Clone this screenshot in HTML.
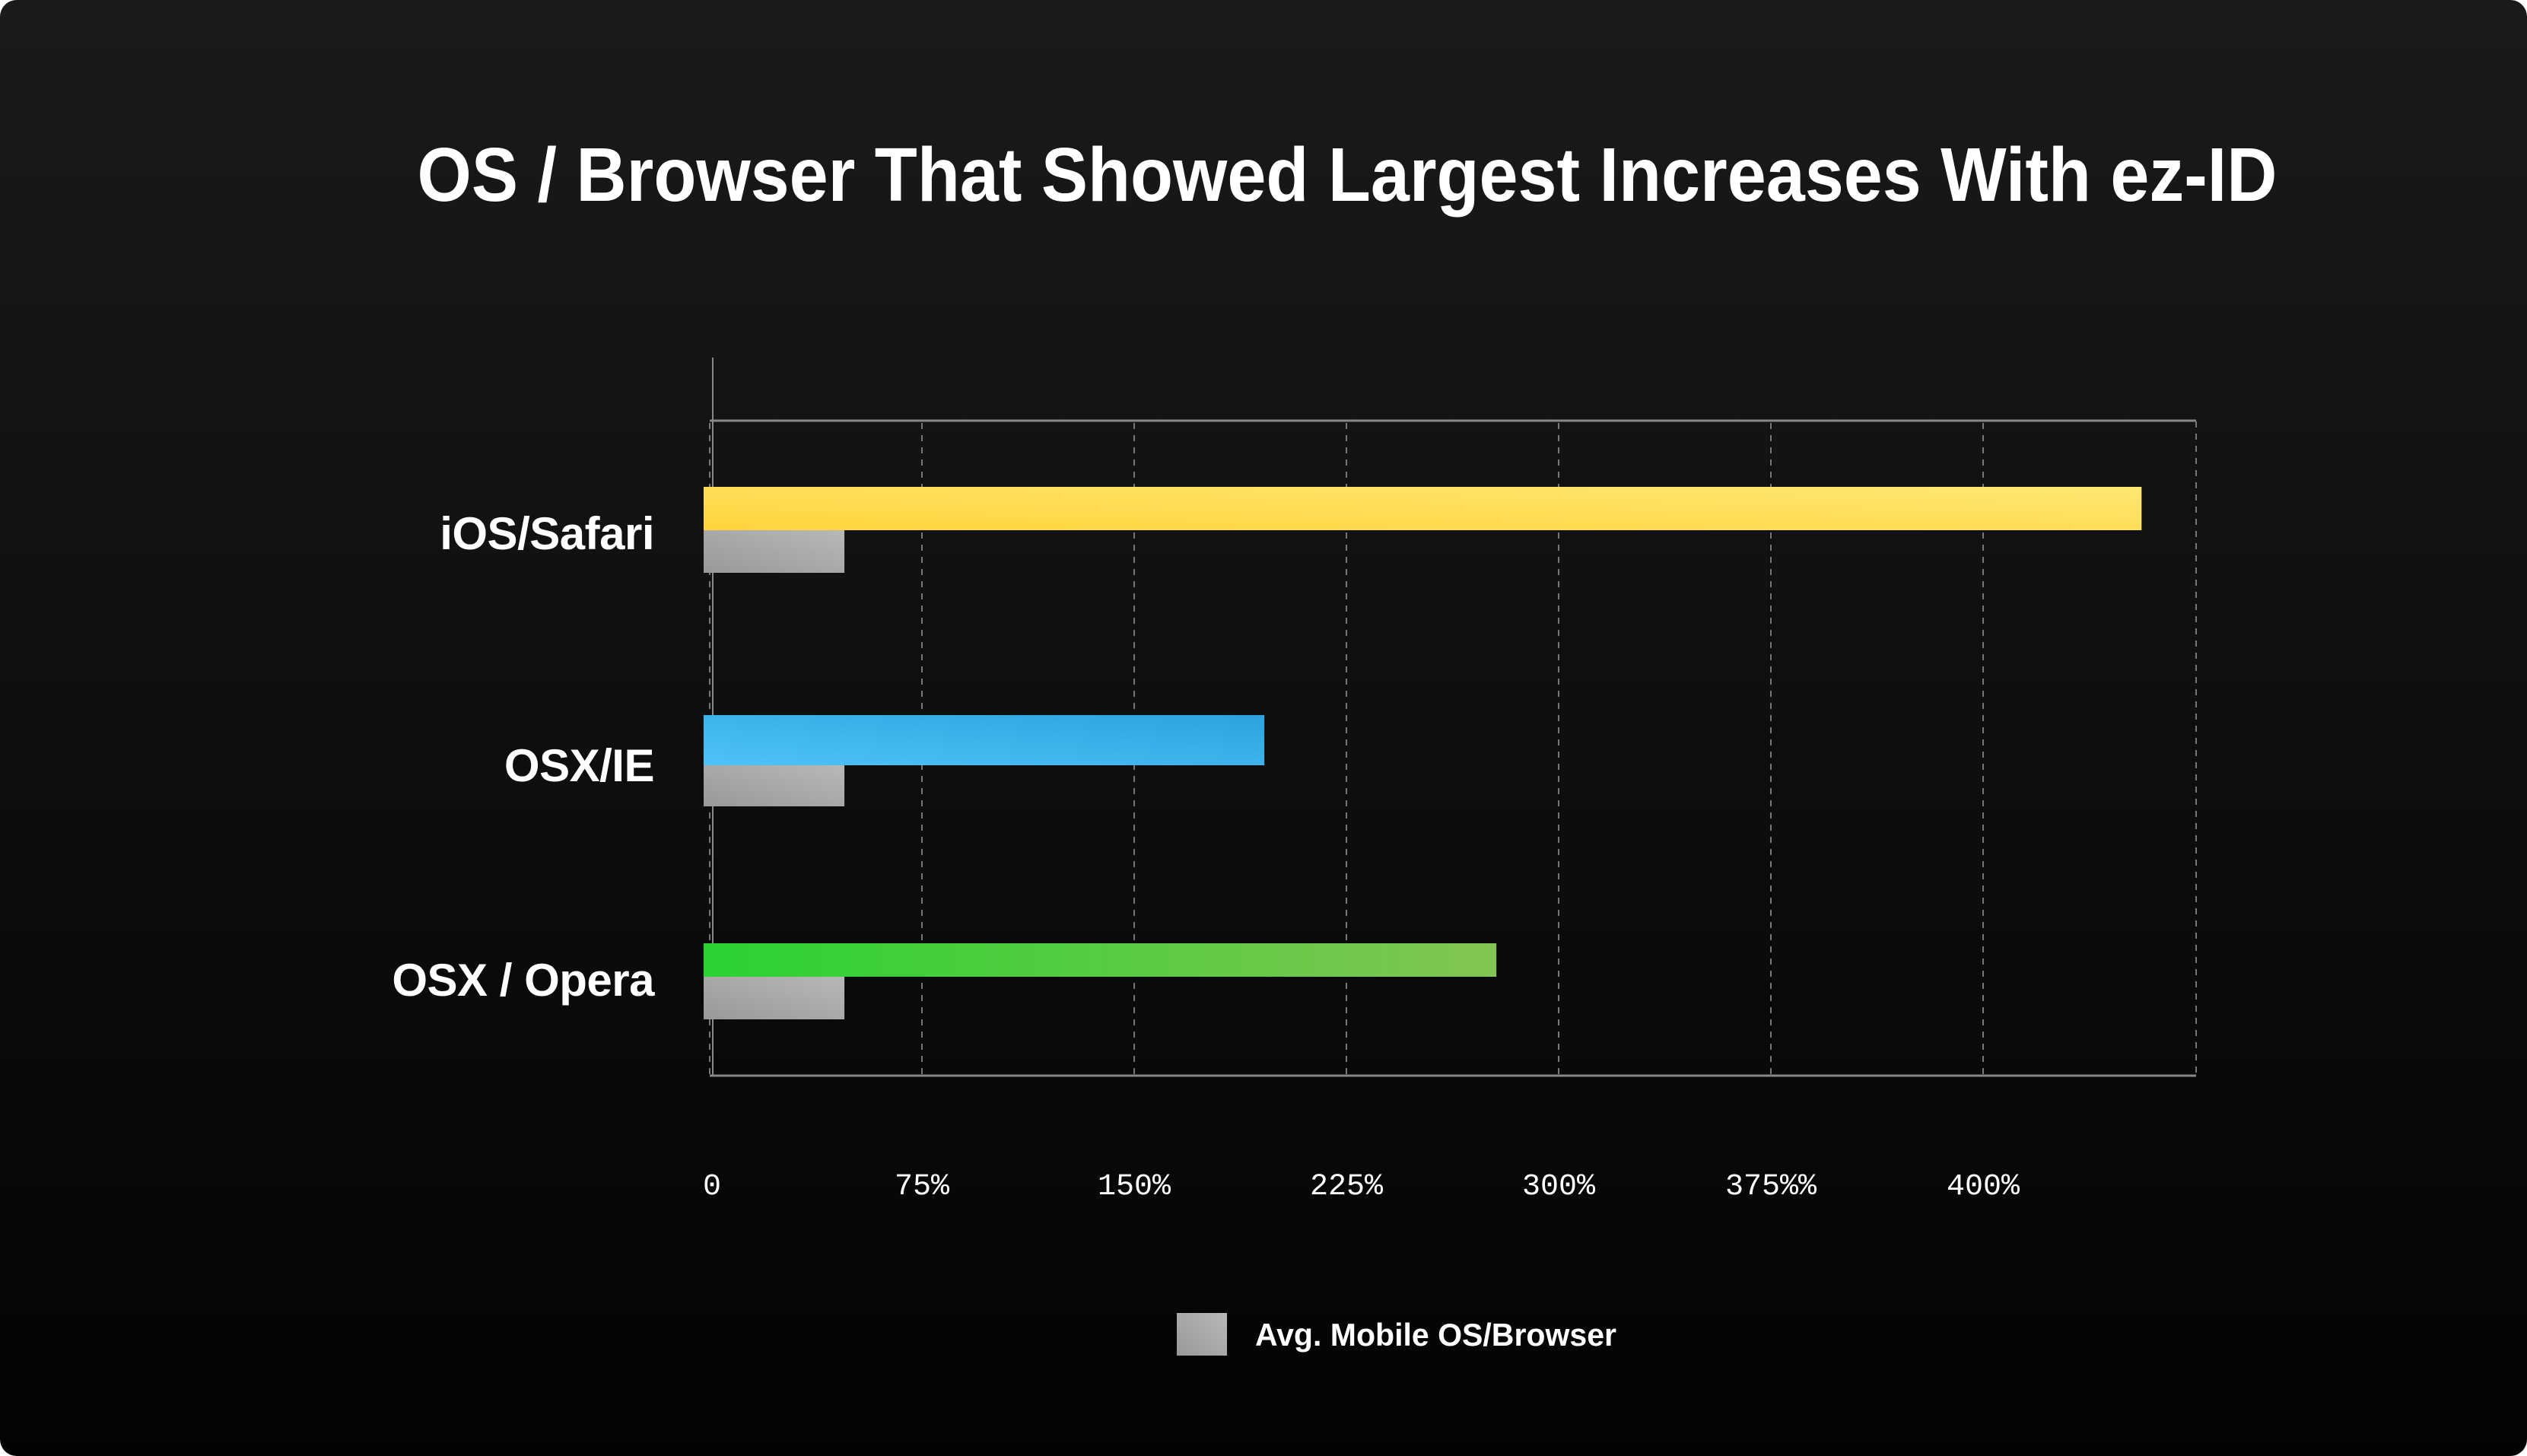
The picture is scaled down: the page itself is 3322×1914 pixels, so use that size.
<!DOCTYPE html>
<html><head><meta charset="utf-8"><style>
html,body{margin:0;padding:0;background:#fff;}
svg{display:block;}
text{font-family:"Liberation Sans",sans-serif;}
text.mono{font-family:"Liberation Mono",monospace;}
</style></head><body>
<svg id="chart" width="3322" height="1914" viewBox="0 0 3322 1914" xmlns="http://www.w3.org/2000/svg">
<defs>
<linearGradient id="bg" x1="0" y1="0" x2="0" y2="1"><stop offset="0" stop-color="#1b1a1b"/><stop offset="1" stop-color="#030303"/></linearGradient>
<linearGradient id="gY" x1="0" y1="1" x2="1" y2="0"><stop offset="0" stop-color="#ffd53d"/><stop offset="1" stop-color="#ffe773"/></linearGradient>
<linearGradient id="gB" x1="0" y1="1" x2="1" y2="0"><stop offset="0" stop-color="#4fc3f7"/><stop offset="1" stop-color="#2ca3de"/></linearGradient>
<linearGradient id="gG" x1="0" y1="0" x2="1" y2="0"><stop offset="0" stop-color="#2ad232"/><stop offset="1" stop-color="#82c552"/></linearGradient>
<linearGradient id="gA" x1="0" y1="1" x2="1" y2="0"><stop offset="0" stop-color="#999"/><stop offset="1" stop-color="#b8b8b8"/></linearGradient>
</defs>
<rect x="0" y="0" width="3322" height="1914" rx="22" fill="url(#bg)"/>
<text x="1771" y="264" text-anchor="middle" font-size="100" font-weight="bold" fill="#fff" textLength="2445" lengthAdjust="spacingAndGlyphs">OS / Browser That Showed Largest Increases With ez-ID</text>
<g id="grid"></g>
<g id="bars"></g>
<g id="labels"></g>
<rect x="1547" y="1726" width="66" height="56" fill="url(#gA)"/>
<text x="1650" y="1769" font-size="42" font-weight="bold" fill="#fff" textLength="475" lengthAdjust="spacingAndGlyphs">Avg. Mobile OS/Browser</text>
</svg>
<script>
const categories = ["iOS/Safari", "OSX/IE", "OSX / Opera"];
const mainValues = [506, 196, 278];
const avgValues = [47.6, 47.6, 47.6];
const tickLabels = ["0", "75%", "150%", "225%", "300%", "375%%", "400%"];
const tickValues = [0, 75, 150, 225, 300, 375, 450];

const NS = "http://www.w3.org/2000/svg";
const x0 = 933, pxPer = 279 / 75;
function xs(v) { return x0 + v * pxPer; }
const catTop = [640, 940, 1240];
const mainH = [57, 66, 44];
const avgH = [56, 54, 56];
const fills = ["url(#gY)", "url(#gB)", "url(#gG)"];
const labelY = [701, 1006, 1288];
function mk(tag, attrs, parent) {
  const e = document.createElementNS(NS, tag);
  for (const k in attrs) e.setAttribute(k, attrs[k]);
  parent.appendChild(e);
  return e;
}
const gridG = document.getElementById('grid');
const barsG = document.getElementById('bars');
const labelsG = document.getElementById('labels');
tickValues.forEach((v, i) => {
  const l = mk('line', {x1: xs(v), x2: xs(v), y1: 556, y2: 1414, stroke: '#777', 'stroke-width': 2, 'stroke-dasharray': '8 8'}, gridG);
  
  
  const t = mk('text', {x: xs(v) + (i === 0 ? 3 : 0), y: 1570, 'text-anchor': 'middle', 'font-size': 40, fill: '#fff', 'class': 'mono'}, labelsG);
  t.textContent = tickLabels[i];
  
  
});
const rightLine = mk('line', {x1: 2887, x2: 2887, y1: 554, y2: 1414, stroke: '#777', 'stroke-width': 2, 'stroke-dasharray': '8 8'}, gridG);


const topLine = mk('line', {x1: 933, x2: 2887, y1: 553, y2: 553, stroke: '#888', 'stroke-width': 3}, gridG);


const botLine = mk('line', {x1: 933, x2: 2887, y1: 1414, y2: 1414, stroke: '#888', 'stroke-width': 3}, gridG);


const yAxisLine = mk('line', {x1: 937, x2: 937, y1: 470, y2: 1414, stroke: '#888', 'stroke-width': 2}, gridG);


categories.forEach((c, i) => {
  const b = mk('rect', {x: 925, y: catTop[i], width: xs(mainValues[i]) - 925, height: mainH[i], fill: fills[i]}, barsG);
  
  
  const a = mk('rect', {x: 925, y: catTop[i] + mainH[i], width: xs(avgValues[i]) - 925, height: avgH[i], fill: 'url(#gA)'}, barsG);
  
  
  const t = mk('text', {x: 860, y: labelY[i] + 21, 'text-anchor': 'end', 'font-size': 60, 'font-weight': 'bold', fill: '#fff', 'letter-spacing': -0.5}, labelsG);
  t.textContent = c;
  
  
});
</script>
</body></html>
